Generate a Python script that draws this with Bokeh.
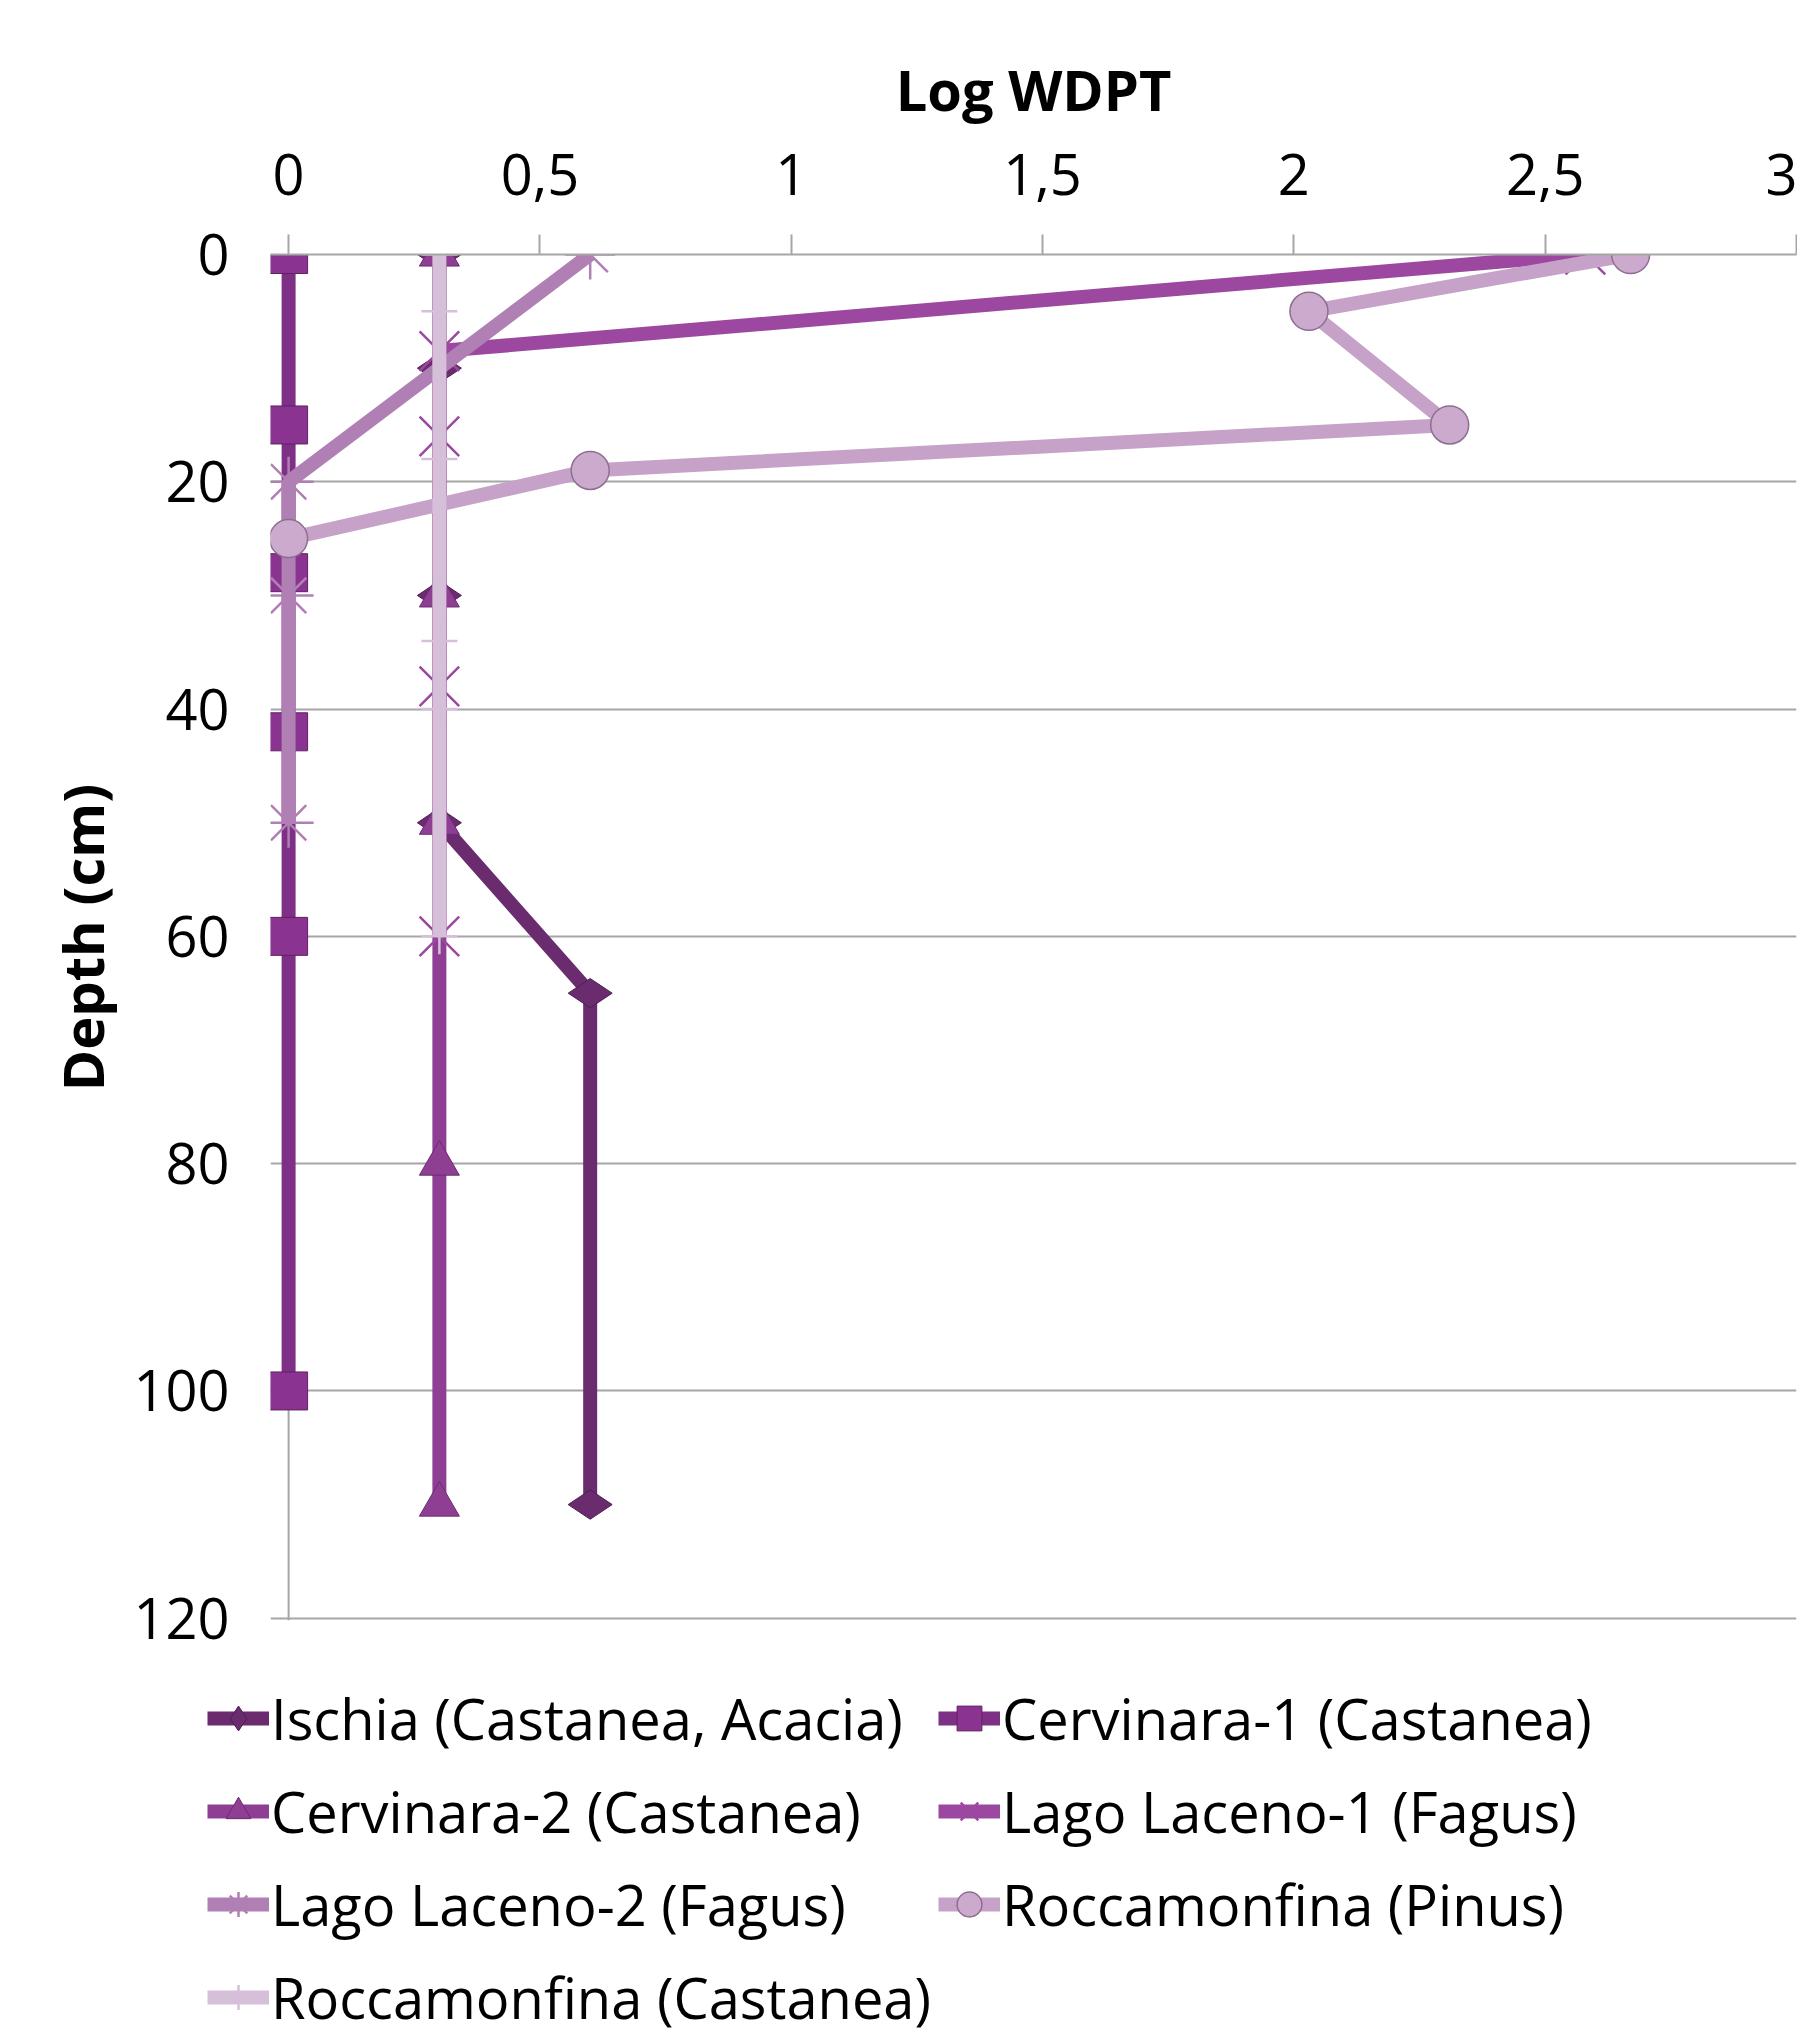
import math
from bokeh.plotting import figure
from bokeh.models import Range1d, FixedTicker, Legend, LegendItem, Span
from bokeh.embed import file_html
from bokeh.resources import INLINE

# ---- data ----
series_names = ["Ischia (Castanea, Acacia)", "Cervinara-1 (Castanea)", "Cervinara-2 (Castanea)",
                "Lago Laceno-1 (Fagus)", "Lago Laceno-2 (Fagus)", "Roccamonfina (Pinus)",
                "Roccamonfina (Castanea)"]
ischia_x = [0.3, 0.3, 0.3, 0.3, 0.6, 0.6]
ischia_y = [0, 10, 30, 50, 65, 110]
cerv1_x = [0, 0, 0, 0, 0, 0]
cerv1_y = [0, 15, 28, 42, 60, 100]
cerv2_x = [0.3, 0.3, 0.3, 0.3, 0.3]
cerv2_y = [0, 30, 50, 80, 110]
ll1_x = [2.58, 0.3, 0.3, 0.3, 0.3]
ll1_y = [0, 8.5, 16, 38, 60]
ll2_x = [0.6, 0, 0, 0]
ll2_y = [0, 20, 30, 50]
pinus_x = [2.67, 2.03, 2.31, 0.6, 0]
pinus_y = [0, 5, 15, 19, 25]
cast_x = [0.3, 0.3, 0.3, 0.3, 0.3, 0.3]
cast_y = [0, 5, 18, 34, 40, 60]

x_ticks = [0, 0.5, 1, 1.5, 2, 2.5, 3]
x_tick_labels = ["0", "0,5", "1", "1,5", "2", "2,5", "3"]
y_ticks = [0, 20, 40, 60, 80, 100, 120]

FONT = "Open Sans"
FS = "56px"
GRID = "#A6A6A6"

p = figure(width=1797, height=1660, output_backend="svg", toolbar_location=None,
           x_range=Range1d(-0.036, 3), y_range=Range1d(120.2, 0),
           x_axis_location="above", y_axis_location="left",
           min_border_left=270, min_border_right=1, min_border_top=254, min_border_bottom=40)
p.outline_line_color = None
p.background_fill_color = "white"

# axes
xa = p.xaxis[0]
xa.ticker = FixedTicker(ticks=x_ticks)
xa.major_label_overrides = {t: l for t, l in zip(x_ticks, x_tick_labels)}
xa.axis_label = "Log WDPT"
xa.axis_label_text_font = FONT
xa.axis_label_text_font_size = FS
xa.axis_label_text_font_style = "bold"
xa.axis_label_text_color = "black"
xa.axis_label_standoff = 24
xa.major_label_text_font = FONT
xa.major_label_text_font_size = FS
xa.major_label_text_color = "black"
xa.major_label_standoff = 40
xa.major_tick_out = 20
xa.major_tick_in = 0
xa.minor_tick_line_color = None
xa.major_tick_line_color = GRID
xa.major_tick_line_width = 2
xa.axis_line_color = GRID
xa.axis_line_width = 2

ya = p.yaxis[0]
ya.ticker = FixedTicker(ticks=y_ticks)
ya.axis_label = "Depth (cm)"
ya.axis_label_text_font = FONT
ya.axis_label_text_font_size = FS
ya.axis_label_text_font_style = "bold"
ya.axis_label_text_color = "black"
ya.axis_label_standoff = 10
ya.major_label_text_font = FONT
ya.major_label_text_font_size = FS
ya.major_label_text_color = "black"
ya.major_label_standoff = 35
ya.major_tick_line_color = None
ya.minor_tick_line_color = None
ya.axis_line_color = None

p.xgrid.visible = False
p.ygrid.ticker = FixedTicker(ticks=y_ticks)
p.ygrid.grid_line_color = GRID
p.ygrid.grid_line_width = 2

p.add_layout(Span(location=0, dimension="height", line_color=GRID, line_width=2, level="underlay"))

LW = 14
specs = [
    (ischia_x, ischia_y, "#6A2C6F", "diamond", 44, "#6A2C6F", "#4E1E52", math.pi / 2, 1),
    (cerv1_x, cerv1_y, "#7E2F86", "square", 38, "#8A3391", "#5E2163", 0, 1),
    (cerv2_x, cerv2_y, "#8E3F93", "triangle", 40, "#8E3F93", "#6A2C6F", 0, 1),
    (ll1_x, ll1_y, "#9C48A0", "x", 56, None, "#9C48A0", 0, 2.5),
    (ll2_x, ll2_y, "#B07FB4", "asterisk", 50, None, "#B07FB4", 0, 2.5),
    (pinus_x, pinus_y, "#C6A2C9", "circle", 38, "#CBAACE", "#8D6E90", 0, 1.5),
    (cast_x, cast_y, "#D6BFD9", "cross", 36, None, "#D6BFD9", 0, 2.5),
]

for xs, ys, lc, mk, ms, fc, mlc, ang, mlw in specs:
    p.line(xs, ys, line_color=lc, line_width=LW)
    p.scatter(xs, ys, marker=mk, size=ms, angle=ang,
              fill_color=fc if fc else lc, fill_alpha=1 if fc else 0,
              line_color=mlc, line_width=mlw)

# ---- legend strip below the chart (same series, ranges chosen so only the legend shows) ----
pl = figure(width=1797, height=373, output_backend="svg", toolbar_location=None,
            x_range=Range1d(10, 11), y_range=Range1d(10, 11),
            x_axis_location=None, y_axis_location=None,
            min_border_left=0, min_border_right=0, min_border_top=0, min_border_bottom=0)
pl.outline_line_color = None
pl.grid.visible = False

items = {}
for name, (xs, ys, lc, mk, ms, fc, mlc, ang, mlw) in zip(series_names, specs):
    r_line = pl.line(xs, ys, line_color=lc, line_width=LW)
    r_mk = pl.scatter(xs, ys, marker=mk, size=ms, angle=ang,
                      fill_color=fc if fc else lc, fill_alpha=1 if fc else 0,
                      line_color=mlc, line_width=mlw)
    items[name] = LegendItem(label=name, renderers=[r_line, r_mk])

# column-major order so the grid reads row by row like the reference
legend_order = [0, 2, 4, 6, 1, 3, 5]
legend = Legend(items=[items[series_names[i]] for i in legend_order],
                orientation="vertical", nrows=4,
                location=(207, -7),
                label_text_font=FONT, label_text_font_size=FS, label_text_color="black",
                glyph_width=62, glyph_height=86, label_height=86, label_standoff=2,
                spacing=7, padding=0, margin=0,
                border_line_color=None, background_fill_alpha=0)
pl.add_layout(legend, "center")

open("out.html", "w").write(file_html([p, pl], INLINE))
